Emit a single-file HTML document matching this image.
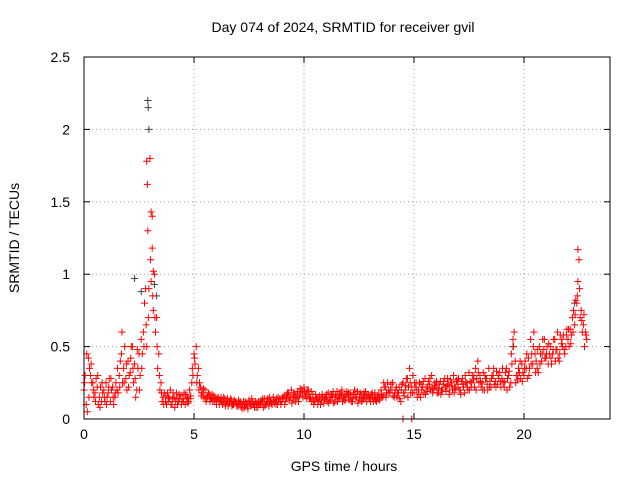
<!DOCTYPE html>
<html><head><meta charset="utf-8"><style>
body{margin:0;background:#fff;}
svg{display:block;font-family:"Liberation Sans",sans-serif;}
</style></head><body>
<svg id="chart" width="640" height="480" viewBox="0 0 640 480">
<rect width="640" height="480" fill="#fff"/>
<text x="343" y="32" font-size="14" text-anchor="middle">Day 074 of 2024, SRMTID for receiver gvil</text>
<text x="344" y="471" font-size="14" text-anchor="middle">GPS time / hours</text>
<text transform="translate(19,238) rotate(-90)" font-size="14" text-anchor="middle">SRMTID / TECUs</text>
<g id="grid"></g>
<g id="ticks"></g>
<g id="dark"></g>
<g id="red"></g>
<rect x="84" y="57" width="526" height="362" fill="none" stroke="#000" stroke-width="1"/>
</svg>
<script>
const xTicks=[0,5,10,15,20];
const yTicks=[0,0.5,1,1.5,2,2.5];
const yTickLabels=["0","0.5","1","1.5","2","2.5"];
const redA=[0.20,0.10,0.42,0.30,0.25,0.18,0.22,0.15,0.12,0.20,
0.25,0.18,0.12,0.22,0.15,0.20,0.30,0.45,0.35,0.28,
0.40,0.32,0.50,0.38,0.20,0.45,0.55,0.60,0.90,1.30,
1.80,1.40,1.00,0.70,0.45,0.25,0.15,0.12,0.18,0.14,
0.10,0.15,0.18,0.12,0.16,0.14,0.10,0.15,0.20,0.25,
0.45,0.50,0.35,0.22,0.18,0.20,0.15,0.17,0.14,0.16,
0.12,0.15,0.13,0.10,0.14,0.12,0.11,0.13,0.10,0.12,
0.09,0.12,0.10,0.08,0.11,0.13,0.09,0.10,0.12,0.08,
0.10,0.12,0.14,0.11,0.09,0.13,0.15,0.12,0.10,0.14,
0.12,0.16,0.14,0.18,0.15,0.13,0.17,0.19,0.16,0.20,
0.22,0.18,0.20,0.15,0.17,0.12,0.14,0.16,0.13,0.11,
0.15,0.18,0.13,0.16,0.12,0.19,0.14,0.17,0.15,0.13,
0.16,0.18,0.12,0.20,0.15,0.13,0.17,0.14,0.19,0.16,
0.14,0.18,0.15,0.12,0.17,0.20,0.16,0.22,0.25,0.18,
0.20,0.15,0.22,0.18,0.12,0.25,0.20,0.28,0.35,0.22,
0.18,0.25,0.20,0.15,0.22,0.28,0.19,0.24,0.30,0.20,
0.22,0.18,0.26,0.20,0.28,0.23,0.17,0.25,0.30,0.21,
0.24,0.20,0.28,0.18,0.25,0.32,0.22,0.27,0.35,0.40,
0.30,0.25,0.20,0.28,0.35,0.22,0.30,0.26,0.24,0.32,
0.28,0.22,0.35,0.30,0.25,0.55,0.40,0.27,0.32,0.38,
0.30,0.35,0.42,0.55,0.38,0.45,0.35,0.50,0.40,0.48,
0.42,0.38,0.50,0.45,0.55,0.48,0.40,0.52,0.58,0.50,
0.55,0.62,0.70,0.65,0.80,1.10,0.75,0.65,0.60];
const redB=[0.30,0.05,0.35,0.25,0.15,0.28,0.10,0.22,0.18,0.12,
0.15,0.28,0.20,0.10,0.25,0.18,0.40,0.25,0.50,0.20,
0.30,0.50,0.25,0.15,0.35,0.30,0.45,0.80,0.50,0.90,
0.95,0.75,0.60,0.35,0.20,0.12,0.18,0.10,0.15,0.10,
0.18,0.12,0.10,0.14,0.12,0.18,0.14,0.12,0.16,0.30,
0.38,0.30,0.25,0.18,0.15,0.12,0.18,0.14,0.12,0.15,
0.14,0.10,0.12,0.15,0.11,0.09,0.14,0.10,0.12,0.09,
0.11,0.08,0.12,0.10,0.07,0.10,0.12,0.08,0.11,0.10,
0.13,0.08,0.10,0.14,0.12,0.10,0.11,0.14,0.12,0.10,
0.14,0.12,0.18,0.13,0.11,0.16,0.14,0.12,0.18,0.15,
0.16,0.20,0.14,0.12,0.10,0.15,0.12,0.10,0.15,0.14,
0.12,0.13,0.17,0.11,0.15,0.14,0.18,0.12,0.16,0.19,
0.13,0.12,0.17,0.15,0.11,0.18,0.13,0.16,0.12,0.14,
0.17,0.12,0.13,0.16,0.14,0.15,0.22,0.18,0.20,0.24,
0.16,0.20,0.18,0.14,0.24,0.16,0.28,0.22,0.18,0.30,
0.22,0.15,0.25,0.20,0.18,0.22,0.26,0.20,0.18,0.25,
0.18,0.24,0.20,0.26,0.19,0.24,0.27,0.20,0.22,0.27,
0.20,0.26,0.22,0.25,0.20,0.26,0.30,0.22,0.28,0.25,
0.22,0.32,0.28,0.20,0.26,0.30,0.24,0.33,0.28,0.22,
0.25,0.32,0.28,0.22,0.38,0.60,0.30,0.35,0.28,0.32,
0.40,0.28,0.35,0.45,0.60,0.40,0.32,0.45,0.55,0.42,
0.50,0.45,0.38,0.55,0.48,0.42,0.58,0.50,0.45,0.62,
0.50,0.58,0.75,0.82,0.95,0.70,0.60,0.50,0.55];
const redC=[0.25,0.45,0.15,0.38,0.20,0.12,0.30,0.08,0.25,0.15,
0.10,0.22,0.28,0.15,0.18,0.35,0.22,0.60,0.25,0.38,
0.22,0.42,0.35,0.28,0.48,0.20,0.35,0.50,0.65,0.70,
1.10,0.85,0.70,0.50,0.30,0.18,0.10,0.16,0.12,0.20,
0.14,0.08,0.14,0.17,0.10,0.12,0.17,0.11,0.14,0.35,
0.42,0.25,0.20,0.16,0.21,0.14,0.16,0.12,0.17,0.13,
0.10,0.13,0.15,0.12,0.09,0.14,0.12,0.09,0.13,0.11,
0.13,0.10,0.07,0.12,0.09,0.11,0.14,0.11,0.08,0.12,
0.11,0.14,0.09,0.12,0.15,0.11,0.13,0.10,0.15,0.12,
0.15,0.10,0.17,0.15,0.20,0.18,0.12,0.15,0.21,0.18,
0.19,0.14,0.17,0.19,0.13,0.17,0.10,0.13,0.17,0.15,
0.17,0.11,0.15,0.19,0.17,0.12,0.16,0.20,0.13,0.17,
0.18,0.15,0.14,0.17,0.19,0.15,0.12,0.18,0.15,0.17,
0.12,0.15,0.18,0.14,0.13,0.17,0.25,0.15,0.18,0.20,
0.25,0.18,0.15,0.22,0.20,0.18,0.23,0.15,0.25,0.18,
0.25,0.20,0.17,0.24,0.26,0.17,0.22,0.28,0.21,0.23,
0.26,0.21,0.17,0.24,0.22,0.28,0.20,0.23,0.18,0.26,
0.28,0.17,0.24,0.30,0.22,0.20,0.25,0.30,0.20,0.32,
0.26,0.20,0.30,0.24,0.22,0.28,0.35,0.22,0.30,0.26,
0.35,0.26,0.20,0.33,0.45,0.50,0.25,0.30,0.40,0.26,
0.35,0.45,0.30,0.38,0.50,0.32,0.48,0.38,0.45,0.55,
0.45,0.52,0.42,0.48,0.40,0.60,0.45,0.55,0.48,0.58,
0.62,0.52,0.60,0.72,0.85,0.90,0.68,0.72,0.58];
const redExtraT=[14.5,14.9,2.85,2.88,3.05,3.1,3.15,22.45];
const redExtraV=[0,0,1.78,1.62,1.43,1.18,1.02,1.17];
const darkT=[2.9,2.92,2.95,2.3,3.2,22.3,20.5,19.5,2.6,3.3];
const darkV=[2.2,2.15,2.0,0.97,0.93,0.8,0.45,0.5,0.88,0.85];

const X0=84,X1=612,Y0=419,Y1=57;
const xs=t=>X0+t*(X1-X0)/24;
const ys=v=>Y0-v*(Y0-Y1)/2.5;
const NS="http://www.w3.org/2000/svg";
function mk(tag,attrs,parent){const e=document.createElementNS(NS,tag);for(const k in attrs)e.setAttribute(k,attrs[k]);parent.appendChild(e);return e;}
const grid=document.getElementById('grid'),ticks=document.getElementById('ticks');
xTicks.forEach(t=>{
  const x=xs(t);
  if(t>0){const l=mk('line',{x1:x,x2:x,y1:Y1,y2:Y0,stroke:'#a0a0a0','stroke-dasharray':'1,3'},grid);
  
  }
  mk('line',{x1:x,x2:x,y1:Y0,y2:Y0-6,stroke:'#000'},ticks);
  mk('line',{x1:x,x2:x,y1:Y1,y2:Y1+6,stroke:'#000'},ticks);
  const tx=mk('text',{x:x,y:Y0+20,'font-size':14,'text-anchor':'middle'},ticks);
  tx.textContent=t;
  
  
});
yTicks.forEach((v,i)=>{
  const y=ys(v);
  if(v>0&&v<2.5){const l=mk('line',{x1:X0,x2:610,y1:y,y2:y,stroke:'#a0a0a0','stroke-dasharray':'1,3'},grid);
  
  }
  mk('line',{x1:X0,x2:X0+6,y1:y,y2:y,stroke:'#000'},ticks);
  mk('line',{x1:610,x2:604,y1:y,y2:y,stroke:'#000'},ticks);
  const tx=mk('text',{x:X0-14,y:y+5,'font-size':14,'text-anchor':'end'},ticks);
  tx.textContent=yTickLabels[i];
  
  
});
function plus(g,t,v,color){
  const x=xs(t),y=ys(v);
  const p=mk('path',{d:`M${x-3.5},${y}H${x+3.5}M${x},${y-3.5}V${y+3.5}`,stroke:color,'stroke-width':1,fill:'none'},g);
  
  
}
const dark=document.getElementById('dark'),red=document.getElementById('red');
darkT.forEach((t,i)=>plus(dark,t,darkV[i],'#404040'));
redA.forEach((v,i)=>plus(red,i*0.1,v,'#ff0000'));
redB.forEach((v,i)=>plus(red,i*0.1+0.05,v,'#ff0000'));
redC.forEach((v,i)=>plus(red,i*0.1+0.025,v,'#ff0000'));
redExtraT.forEach((t,i)=>plus(red,t,redExtraV[i],'#ff0000'));
</script>
</body></html>
